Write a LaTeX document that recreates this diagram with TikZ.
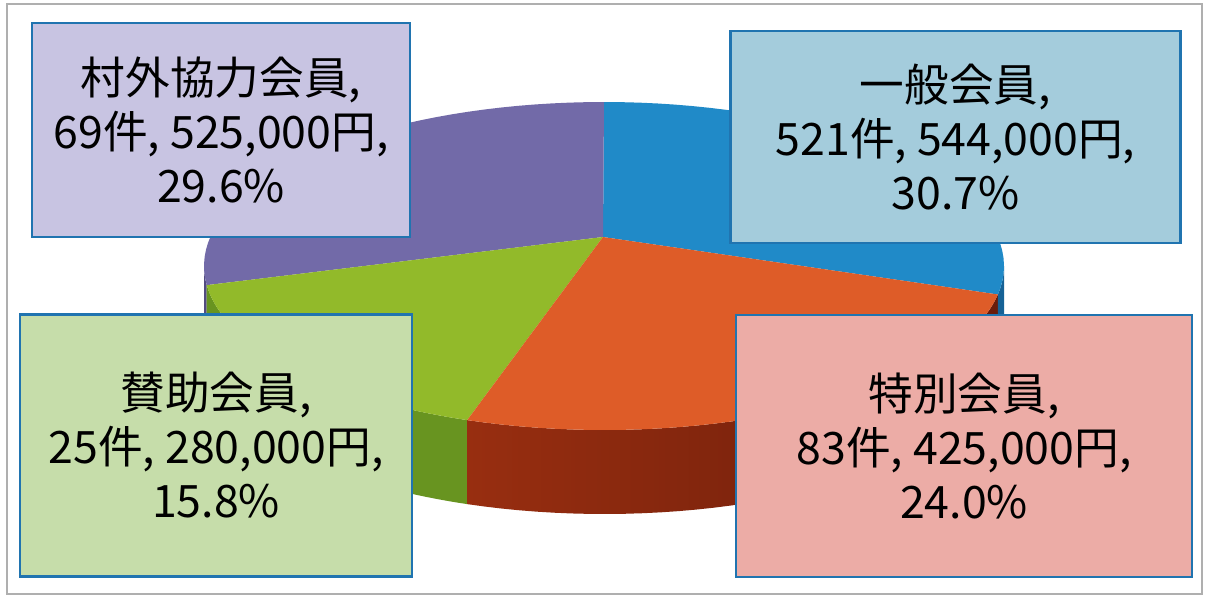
\documentclass[tikz,border=0pt]{standalone}
\usepackage{fontspec}
\newfontfamily\jpfont{Noto Sans CJK JP}

\definecolor{pieblue}{RGB}{32,138,200}
\definecolor{pieblueside}{RGB}{22,98,150}
\definecolor{piepurple}{RGB}{114,106,168}
\definecolor{piepurpleside}{RGB}{82,74,128}
\definecolor{piegreen}{RGB}{146,186,42}
\definecolor{piegreenside}{RGB}{104,148,32}
\definecolor{pieorange}{RGB}{222,92,40}
\definecolor{pieorangeleft}{RGB}{152,46,16}
\definecolor{pieorangeright}{RGB}{105,28,10}
\definecolor{boxline}{RGB}{32,116,176}
\definecolor{fillpurple}{RGB}{200,196,226}
\definecolor{fillblue}{RGB}{164,204,220}
\definecolor{fillgreen}{RGB}{198,221,170}
\definecolor{fillpink}{RGB}{236,172,166}
\definecolor{framegray}{RGB}{175,175,175}

\tikzstyle{labelbox} = [rectangle, draw=boxline, line width=2.2pt, inner sep=0pt, align=center, font=\jpfont\fontsize{33.5}{40.5}\selectfont]

\begin{document}
\begin{tikzpicture}[x=0.75pt, y=-0.75pt]

\useasboundingbox (0,0) rectangle (1207,596);
\fill[white] (0,0) rectangle (1207,596);
\draw[framegray, line width=1.5pt] (7,4) rectangle (1202,594);

% side walls of the pie
\fill[piepurpleside] plot[domain=180:186.7, samples=10] ({604+400*cos(\x)},{266-164*sin(\x)})
  -- plot[domain=186.7:180, samples=10] ({604+400*cos(\x)},{350-164*sin(\x)}) -- cycle;
\fill[piegreenside] plot[domain=186.7:250, samples=40] ({604+400*cos(\x)},{266-164*sin(\x)})
  -- plot[domain=250:186.7, samples=40] ({604+400*cos(\x)},{350-164*sin(\x)}) -- cycle;
\shade[left color=pieorangeleft, right color=pieorangeright] plot[domain=250:350, samples=40] ({604+400*cos(\x)},{266-164*sin(\x)})
  -- plot[domain=350:250, samples=40] ({604+400*cos(\x)},{350-164*sin(\x)}) -- cycle;
\fill[pieblueside] plot[domain=350:360, samples=10] ({604+400*cos(\x)},{266-164*sin(\x)})
  -- plot[domain=360:350, samples=10] ({604+400*cos(\x)},{350-164*sin(\x)}) -- cycle;

% top of the pie
\coordinate (hub) at (603,237);
\fill[pieblue] (hub) -- plot[domain=-10:90, samples=40] ({604+400*cos(\x)},{266-164*sin(\x)}) -- cycle;
\fill[piepurple] (hub) -- plot[domain=90:186.7, samples=40] ({604+400*cos(\x)},{266-164*sin(\x)}) -- cycle;
\fill[piegreen] (hub) -- plot[domain=186.7:250, samples=40] ({604+400*cos(\x)},{266-164*sin(\x)}) -- cycle;
\fill[pieorange] (hub) -- plot[domain=250:350, samples=40] ({604+400*cos(\x)},{266-164*sin(\x)}) -- cycle;

% data labels
\node (sonsgai) [labelbox, fill=fillpurple, minimum width=283.5pt, minimum height=160.5pt] at (221,130)
  {村外協力会員,\\69件, 525,000円,\\29.6\%};
\node (ippan) [labelbox, fill=fillblue, minimum width=338pt, minimum height=159pt] at (955.5,137)
  {一般会員,\\521件, 544,000円,\\30.7\%};
\node (sanjo) [labelbox, fill=fillgreen, minimum width=294pt, minimum height=197pt] at (216,445.5)
  {賛助会員,\\25件, 280,000円,\\15.8\%};
\node (tokubetsu) [labelbox, fill=fillpink, minimum width=342pt, minimum height=196.5pt] at (964,446)
  {特別会員,\\83件, 425,000円,\\24.0\%};

\end{tikzpicture}
\end{document}
